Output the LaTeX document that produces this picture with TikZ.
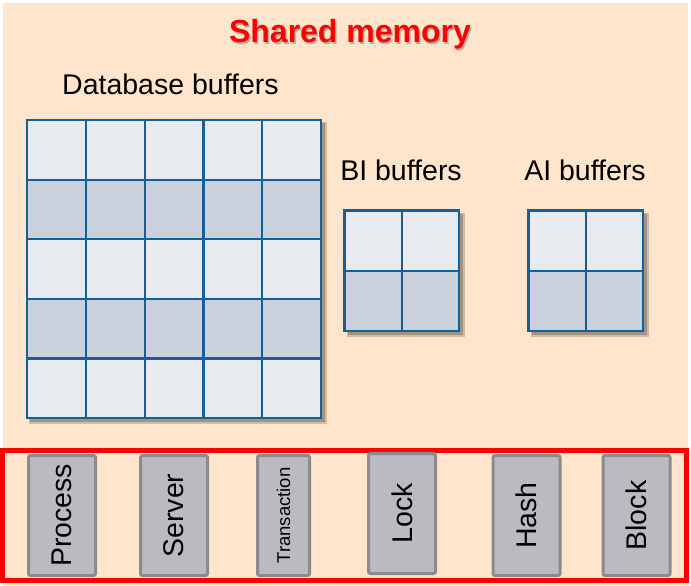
\documentclass[tikz,border=0pt]{standalone}
\usepackage{fontspec}
\setmainfont{Liberation Sans}
\definecolor{peach}{RGB}{255,229,204}
\definecolor{celllight}{RGB}{231,234,239}
\definecolor{celldark}{RGB}{203,209,220}
\definecolor{gridblue}{RGB}{22,96,152}
\definecolor{boxgray}{RGB}{185,187,192}
\definecolor{boxedge}{RGB}{137,139,142}
\tikzset{
  gridline/.style={draw=gridblue, line width=2.2pt},
  buflabel/.style={inner sep=0pt, anchor=base, font=\fontsize{28.5}{34}\selectfont},
  membox/.style={draw=boxedge, fill=boxgray, line width=3pt, rounded corners=2pt,
    rotate=90, minimum width=120pt, minimum height=67pt, inner sep=0pt,
    font=\fontsize{28.5}{34}\selectfont},
}
% x0,y0,x1,y1,cols,rows,dark rows
\newcommand{\bufgrid}[7]{%
  \fill[black!70!peach,opacity=.25] ({#1+2},{#2+2}) rectangle ({#3+6},{#4+6});
  \fill[black!70!peach,opacity=.35] ({#1+3},{#2+3}) rectangle ({#3+4},{#4+4});
  \fill[celllight] (#1,#2) rectangle (#3,#4);
  \foreach \r in {#7}
    \fill[celldark] (#1,{#2+(\r-1)*(#4-#2)/#6}) rectangle (#3,{#2+\r*(#4-#2)/#6});
  \foreach \c in {1,...,#5}
    \draw[gridline] ({#1+\c*(#3-#1)/#5},#2) -- ({#1+\c*(#3-#1)/#5},#4);
  \foreach \r in {1,...,#6}
    \draw[gridline] (#1,{#2+\r*(#4-#2)/#6}) -- (#3,{#2+\r*(#4-#2)/#6});
  \draw[gridline, line width=2.8pt] (#1,#2) rectangle (#3,#4);
}
\begin{document}
\begin{tikzpicture}[x=1pt, y=-1pt]
\useasboundingbox (0,0) rectangle (691,586);
\fill[peach] (3,3) rectangle (688,586);

% title
\node[inner sep=0pt, anchor=base, text=black!55, opacity=.5,
  font=\fontsize{32}{38}\selectfont\bfseries] (titleshadow) at (351.5,44.3) {Shared memory};
\node[inner sep=0pt, anchor=base, text=red,
  font=\fontsize{32}{38}\selectfont\bfseries] (title) at (350,42.3) {Shared memory};

% buffers
\node[buflabel, anchor=base west] (dblabel) at (62,94.3) {Database buffers};
\node[buflabel] (bilabel) at (401,180.7) {BI buffers};
\node[buflabel] (ailabel) at (585,180.7) {AI buffers};

\bufgrid{27}{120}{321}{418}{5}{5}{2,4}
\bufgrid{344.5}{210.5}{459}{331}{2}{2}{2}
\bufgrid{528.5}{210.5}{643}{331}{2}{2}{2}

% shared structures
\node[draw=red, line width=5pt, minimum width=683.5pt, minimum height=130.5pt,
  inner sep=0pt] (pool) at (344.25,515.25) {};
\node[membox] (process) at (62,515.5) {Process};
\node[membox] (server) at (174,515.5) {Server};
\node[membox, minimum height=52pt, font=\fontsize{18.5}{22}\selectfont] (trans) at (283.5,515.5) {Transaction};
\node[membox] (lock) at (402,513.5) {Lock};
\node[membox] (hash) at (526.5,515.5) {Hash};
\node[membox] (block) at (636.5,515.5) {Block};
\end{tikzpicture}
\end{document}
